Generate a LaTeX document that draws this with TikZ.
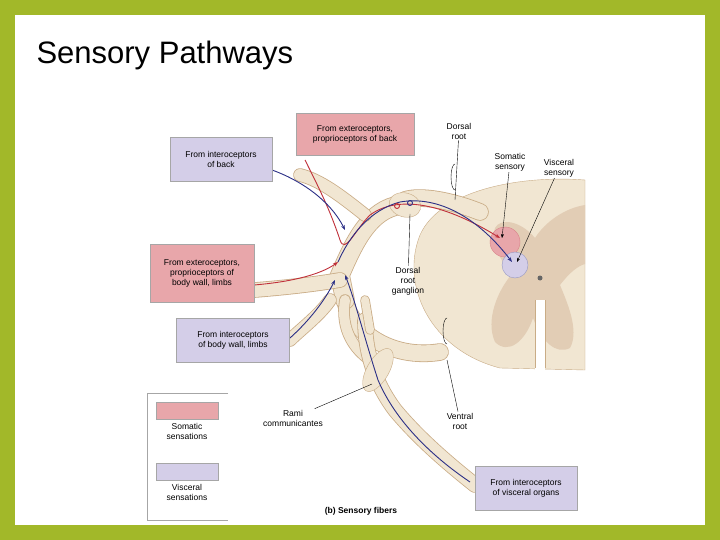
\documentclass[tikz,border=0pt]{standalone}
\usepackage{fontspec}
\setmainfont{Liberation Sans}
\usetikzlibrary{positioning,arrows.meta}
\definecolor{frame}{HTML}{A2B829}
\definecolor{soma}{HTML}{E8A6AA}
\definecolor{visc}{HTML}{D4CEE8}
\definecolor{nervefill}{HTML}{F1E6D2}
\definecolor{nerveedge}{HTML}{C9AC86}
\definecolor{grey}{HTML}{E2CDB5}
\definecolor{fred}{HTML}{C0303A}
\definecolor{fblue}{HTML}{2B2F86}
\tikzset{
  box/.style={draw=gray!70, font=\fontsize{8.5}{10}\selectfont, align=center, inner sep=3pt},
  sbox/.style={box, fill=soma},
  vbox/.style={box, fill=visc},
  lab/.style={font=\fontsize{8.5}{10}\selectfont, align=center, inner sep=1pt},
  nerve/.style={draw=nerveedge, line width=0.8pt, double=nervefill, double distance=#1, line cap=round},
  nerve/.default=14pt,
  pointer/.style={draw=black, line width=0.4pt},
  fibre/.style={line width=0.9pt, -{Stealth[length=5pt]}}
}
\begin{document}
\begin{tikzpicture}[x=1pt,y=-1pt]
\fill[frame] (0,0) rectangle (720,540);
\fill[white] (15,15) rectangle (705,525);
\node[anchor=west, font=\fontsize{31}{36}\selectfont] (title) at (33,55) {Sensory Pathways};

% spinal cord
\fill[nervefill, draw=nerveedge] (585,180) .. controls (520,175) and (440,190) .. (420,235)
  .. controls (400,285) and (430,350) .. (500,368) -- (585,370) -- cycle;
\fill[grey] (585,205) .. controls (565,208) and (545,222) .. (535,238)
  .. controls (520,220) and (500,218) .. (495,228) .. controls (490,245) and (502,262) .. (512,274)
  .. controls (498,290) and (485,320) .. (495,342) .. controls (508,355) and (525,342) .. (533,318)
  .. controls (542,342) and (556,355) .. (570,348) .. controls (580,330) and (566,300) .. (560,285)
  .. controls (570,272) and (578,266) .. (585,264) -- cycle;
\fill[white] (535,300) rectangle (545,370);
\draw[nerveedge] (535,300) -- (535,368) (545,300) -- (545,368);
\fill[black!60] (540,278) circle (2.5);
\fill[soma, draw=fred!60] (505,242) circle (15);
\fill[visc, draw=fblue!50] (515,265) circle (13);

% nerves
\draw[nerve=16pt] (480,212) .. controls (450,200) and (420,195) .. (405,200);
\draw[nerve=16pt] (440,352) .. controls (390,360) and (350,330) .. (345,300);
\draw[nerve=18pt] (400,205) .. controls (370,210) and (355,240) .. (340,275) -- (345,300);
\draw[nerve=12pt] (365,215) .. controls (340,195) and (320,180) .. (300,175);
\draw[nerve] (340,280) .. controls (310,285) and (280,288) .. (255,290);
\draw[nerve=12pt] (330,300) .. controls (320,315) and (300,330) .. (290,340);
\draw[nerve=10pt] (345,300) .. controls (340,330) and (355,350) .. (370,360);
\draw[nerve] (365,320) .. controls (365,360) and (380,390) .. (395,410)
  .. controls (420,440) and (450,465) .. (475,485);
\draw[nerve=8pt] (365,300) -- (370,330);
\fill[nervefill, draw=nerveedge, rotate around={-15:(405,205)}] (405,205) ellipse (16 and 12);
\fill[nervefill, draw=nerveedge, rotate around={60:(378,370)}] (378,370) ellipse (24 and 11);

% fibres
\draw[fibre, fred] (305,160) .. controls (320,190) and (330,210) .. (340,240)
  .. controls (345,255) and (355,230) .. (370,215) .. controls (390,200) and (430,195) .. (500,238);
\draw[fibre, fblue] (272,170) .. controls (300,180) and (330,200) .. (345,230);
\draw[fibre, fblue] (338,262) .. controls (350,235) and (370,210) .. (400,202)
  .. controls (440,195) and (480,220) .. (512,262);
\draw[fibre, fred] (254,285) .. controls (290,282) and (320,275) .. (338,262);
\draw[fibre, fblue] (290,338) .. controls (310,320) and (325,300) .. (335,280);
\draw[fibre, fblue] (470,482) .. controls (430,455) and (395,420) .. (378,380)
  .. controls (365,340) and (355,300) .. (345,275);
\draw[fred, line width=0.9pt] (397,206) circle (2.5);
\draw[fblue, line width=0.9pt] (410,203) circle (2.5);

% label boxes
\node[sbox, minimum width=118pt, minimum height=42pt] (extback) at (355,134) {From exteroceptors,\\proprioceptors of back};
\node[vbox, minimum width=102pt, minimum height=44pt] (intback) at (221,159) {From interoceptors\\of back};
\node[sbox, minimum width=104pt, minimum height=58pt] (extwall) at (202,273) {From exteroceptors,\\proprioceptors of\\body wall, limbs};
\node[vbox, minimum width=113pt, minimum height=44pt] (intwall) at (233,340) {From interoceptors\\of body wall, limbs};
\node[vbox, minimum width=102pt, minimum height=44pt] (intvisc) at (526,488) {From interoceptors\\of visceral organs};

% legend
\draw[gray!70] (228,393) -- (147,393) -- (147,520) -- (228,520);
\node[sbox, minimum width=62pt, minimum height=17pt] (legs) at (187,411) {};
\node[lab, below=2pt of legs] (legsl) {Somatic\\sensations};
\node[vbox, minimum width=62pt, minimum height=17pt] (legv) at (187,472) {};
\node[lab, below=2pt of legv] (legvl) {Visceral\\sensations};

% labels and pointers
\node[lab] (droot) at (459,131) {Dorsal\\root};
\node[lab] (somsens) at (510,162) {Somatic\\sensory};
\node[lab] (vissens) at (559,168) {Visceral\\sensory};
\node[lab] (drg) at (408,281) {Dorsal\\root\\ganglion};
\node[lab] (rami) at (293,418) {Rami\\communicantes};
\node[lab] (vroot) at (460,421) {Ventral\\root};
\node[font=\bfseries\fontsize{8.5}{10}\selectfont] (capt) at (361,511) {(b) Sensory fibers};
\draw[pointer] (droot) -- (455,200);
\draw[pointer] (455,190) arc (90:270:4 and 13);
\draw[pointer, -{Stealth[length=4pt]}] (somsens) -- (502,238);
\draw[pointer, -{Stealth[length=4pt]}] (vissens) -- (517,262);
\draw[pointer] (drg) -- (410,214);
\draw[pointer] (rami) -- (372,384);
\draw[pointer] (vroot) -- (447,360);
\draw[pointer] (447,344) arc (90:270:4 and 13);
\end{tikzpicture}
\end{document}
